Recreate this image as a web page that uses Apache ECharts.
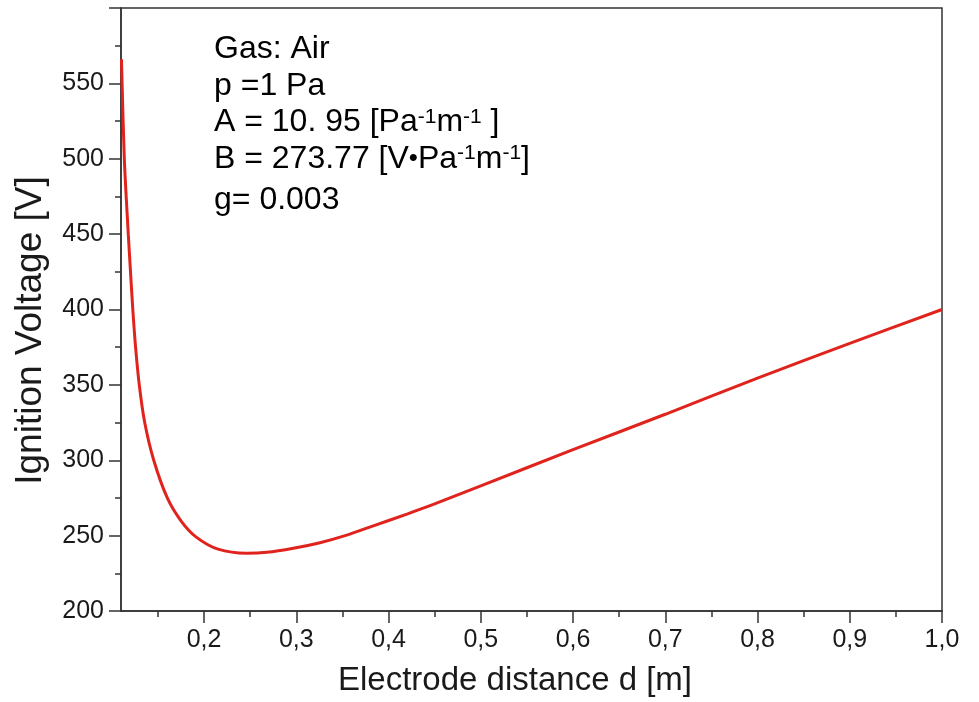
<!DOCTYPE html>
<html>
<head>
<meta charset="utf-8">
<title>Ignition Voltage</title>
<script src="https://cdn.jsdelivr.net/npm/echarts@6/dist/echarts.min.js"></script>
<style>
  html, body { margin: 0; padding: 0; background: #fff; }
  #chart { width: 979px; height: 702px; }
</style>
</head>
<body>
<div id="chart"></div>
<script>
// electrode distance d [m] and ignition voltage [V]
const distance = [0.1105, 0.1136, 0.1179, 0.1203, 0.1228, 0.1258, 0.1298, 0.1357, 0.1455, 0.1602,
  0.1754, 0.1916, 0.2152, 0.2462, 0.268, 0.2968, 0.3257, 0.3547, 0.3835, 0.42,
  0.45, 0.5, 0.6, 0.7, 0.8, 0.9, 1.0];
const voltage = [566, 500, 450, 425, 400, 375, 350, 325, 300, 275,
  259.5, 249, 241, 238.3, 238.9, 241.6, 245.3, 250.3, 256.5, 264.3,
  271, 283, 307, 330.5, 354.5, 377.5, 400];

// x axis ticks (major with labels, minor without)
const xMajorTicks = [0.2, 0.3, 0.4, 0.5, 0.6, 0.7, 0.8, 0.9, 1.0];
const xMinorTicks = [0.15, 0.25, 0.35, 0.45, 0.55, 0.65, 0.75, 0.85, 0.95];

const axisColor = '#333';
const textColor = '#1a1a1a';
const font = 'Liberation Sans, Arial, sans-serif';

const chart = echarts.init(document.getElementById('chart'));

const main = { fontSize: 32, fontFamily: font, color: textColor, lineHeight: 32 };
const sup = { fontSize: 21, fontFamily: font, color: textColor, verticalAlign: 'top', lineHeight: 20 };
const dot = { fontSize: 26, fontFamily: font, color: textColor, lineHeight: 32 };

const noteLines = [
  { y: 49, text: '{m|Gas: Air}' },
  { y: 86, text: '{m|p =1 Pa}' },
  { y: 122.5, text: '{m|A = 10. 95 [Pa}{s|-1}{m|m}{s|-1}{m| ]}' },
  { y: 159, text: '{m|B = 273.77 [V}{b|•}{m|Pa}{s|-1}{m|m}{s|-1}{m|]}' },
  { y: 200, text: '{m|g= 0.003}' }
];

const option = {
  animation: false,
  grid: {
    left: 121, right: 37, top: 8, bottom: 89,
    show: true,
    borderColor: axisColor,
    borderWidth: 1.5
  },
  xAxis: [
    {
      type: 'value',
      min: 0.11,
      max: 1.0,
      name: 'Electrode distance d [m]',
      nameLocation: 'middle',
      nameGap: 53,
      nameTextStyle: { fontSize: 33, fontFamily: font, color: textColor, padding: [0, 33, 0, 0] },
      axisLine: { lineStyle: { color: axisColor, width: 1.5 } },
      axisTick: { customValues: xMajorTicks, length: 12, lineStyle: { color: axisColor, width: 1.5 } },
      axisLabel: {
        customValues: xMajorTicks,
        fontSize: 25,
        fontFamily: font,
        color: textColor,
        margin: 17,
        formatter: v => v.toFixed(1).replace('.', ',')
      },
      splitLine: { show: false }
    },
    {
      type: 'value',
      min: 0.11,
      max: 1.0,
      position: 'bottom',
      axisLine: { show: false },
      axisTick: { customValues: xMinorTicks, length: 6, lineStyle: { color: axisColor, width: 1.5 } },
      axisLabel: { show: false },
      splitLine: { show: false }
    }
  ],
  yAxis: {
    type: 'value',
    min: 200,
    max: 600,
    interval: 50,
    name: 'Ignition Voltage [V]',
    nameLocation: 'middle',
    nameGap: 72,
    nameTextStyle: { fontSize: 37, fontFamily: font, color: textColor, padding: [0, 42, 0, 0] },
    axisLine: { show: true, lineStyle: { color: axisColor, width: 1.5 } },
    axisTick: { show: true, length: 12, lineStyle: { color: axisColor, width: 1.5 } },
    minorTick: { show: true, splitNumber: 2, length: 6, lineStyle: { color: axisColor, width: 1.5 } },
    axisLabel: {
      fontSize: 25,
      fontFamily: font,
      color: textColor,
      margin: 17,
      showMaxLabel: false
    },
    splitLine: { show: false }
  },
  graphic: noteLines.map(l => ({
    type: 'text',
    left: 214,
    top: l.y - 16,
    style: {
      text: l.text,
      rich: { m: main, s: sup, b: dot }
    }
  })),
  series: [{
    type: 'line',
    xAxisIndex: 0,
    data: distance.map((d, i) => [d, voltage[i]]),
    smooth: 0.3,
    showSymbol: false,
    clip: true,
    lineStyle: { color: '#e0231c', width: 3 }
  }]
};

chart.setOption(option);
</script>
</body>
</html>
